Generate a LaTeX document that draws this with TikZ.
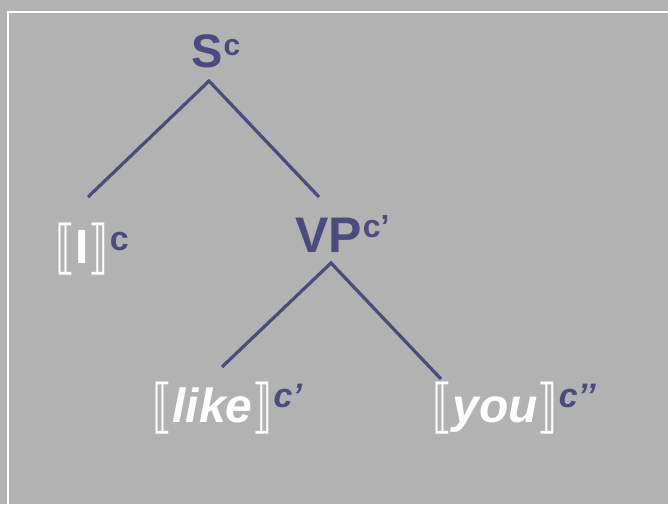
\documentclass[tikz,border=0pt]{standalone}
\usepackage{fontspec}
\setmainfont{Liberation Sans}
\newfontfamily\brfont{DejaVu Sans}
\usetikzlibrary{positioning}
\definecolor{treeblue}{HTML}{4B4B7E}
\definecolor{slidegray}{HTML}{B2B2B2}
\newcommand{\bigbr}[1]{\raisebox{-4pt}{\scalebox{0.85}[1.22]{\brfont\mdseries\upshape #1}}}
\newcommand{\semval}[1]{\bigbr{⟦}{#1}\bigbr{⟧}}
\newcommand{\ctx}[3]{\kern1pt\raisebox{#2pt}{\textcolor{treeblue}{\fontsize{#1}{#1}\selectfont #3}}}
\tikzset{
 cat/.style = {
    text=treeblue, inner sep=0pt, anchor=base west,
    font=\bfseries\fontsize{50}{50}\selectfont},
 leaf/.style = {
    text=white, inner sep=0pt, anchor=base west,
    font=\bfseries\fontsize{48}{48}\selectfont},
 branch/.style = {
    draw=treeblue, line width=3.2pt},
}

\begin{document}
\begin{tikzpicture}[x=1pt, y=-1pt]
    \useasboundingbox (0,0) rectangle (668,504);
    \fill[slidegray] (0,0) rectangle (668,504);
    \draw[white, line width=1.6pt] (8,520) -- (8,12) -- (680,12);

    % Place nodes
    \node [cat, font=\bfseries\fontsize{47}{47}\selectfont] (s)  at (191,67)  {S\ctx{30}{12}{c}};
    \node [leaf]  (i)    at (55,263)  {\semval{I}\ctx{34}{13}{c}};
    \node [cat]   (vp)   at (295,252) {VP\ctx{32}{15}{c’}};
    \node [leaf]  (like) at (152,422) {\semval{\itshape like}\ctx{34}{15}{\itshape c’}};
    \node [leaf]  (you)  at (432,422) {\semval{\itshape you}\ctx{34}{15}{\itshape c’’}};

    % Branch ends
    \coordinate (s-foot)    at (209,81);
    \coordinate (i-head)    at (88,197);
    \coordinate (vp-head)   at (319,197);
    \coordinate (vp-foot)   at (331,263);
    \coordinate (like-head) at (222,367);
    \coordinate (you-head)  at (441,379);

    \draw[branch] (i-head) -- (s-foot) -- (vp-head);
    \draw[branch] (like-head) -- (vp-foot) -- (you-head);
\end{tikzpicture}
\end{document}
